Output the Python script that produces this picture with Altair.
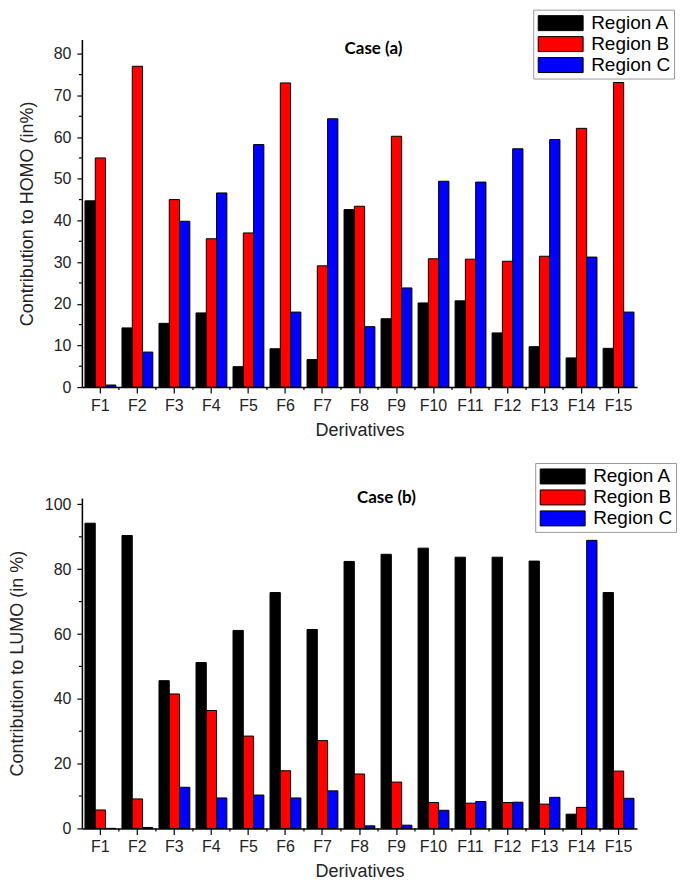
import altair as alt
import pandas as pd

derivs = [f"F{i}" for i in range(1, 16)]
regions = ["Region A", "Region B", "Region C"]
colors = ["#000000", "#ff0000", "#0000ff"]

homo_a = [44.7, 14.2, 15.3, 17.8, 4.9, 9.2, 6.6, 42.6, 16.4, 20.2, 20.7, 13.0, 9.7, 7.0, 9.3]
homo_b = [55.0, 77.0, 45.0, 35.6, 37.0, 73.0, 29.1, 43.4, 60.2, 30.8, 30.7, 30.2, 31.4, 62.1, 73.1]
homo_c = [0.5, 8.4, 39.8, 46.6, 58.2, 18.0, 64.4, 14.5, 23.8, 49.4, 49.2, 57.2, 59.4, 31.2, 18.0]

lumo_a = [94.2, 90.4, 45.6, 51.2, 61.1, 72.8, 61.4, 82.4, 84.6, 86.5, 83.7, 83.7, 82.5, 4.4, 72.8]
lumo_b = [5.7, 9.1, 41.5, 36.4, 28.5, 17.8, 27.1, 16.8, 14.3, 8.0, 7.8, 8.0, 7.5, 6.5, 17.7]
lumo_c = [0.0, 0.3, 12.7, 9.4, 10.3, 9.4, 11.6, 0.8, 1.0, 5.6, 8.3, 8.1, 9.6, 88.9, 9.3]

homo_ticks = [0, 10, 20, 30, 40, 50, 60, 70, 80]
homo_minor = [5, 15, 25, 35, 45, 55, 65, 75]
lumo_ticks = [0, 20, 40, 60, 80, 100]
lumo_minor = [10, 30, 50, 70, 90]

FONT = "Liberation Sans"
W = 556


def panel(a, b, c, ytitle, ymax, yticks, minor, case, case_x, case_y,
          H, legend_x, legend_y, ytitle_pad):
    df = pd.DataFrame({
        "Derivative": derivs * 3,
        "Region": [r for r in regions for _ in derivs],
        "Value": a + b + c,
    })
    xscale = alt.Scale(domain=derivs, paddingInner=0, paddingOuter=0)
    yscale = alt.Scale(domain=[0, ymax], nice=False, zero=True)
    bars = alt.Chart(df).mark_bar(stroke="black", strokeWidth=1, opacity=1).encode(
        x=alt.X("Derivative:N", sort=derivs, scale=xscale,
                axis=alt.Axis(title="Derivatives", labelAngle=0, tickSize=6,
                              labelPadding=4, titlePadding=8)),
        xOffset=alt.XOffset("Region:N", sort=regions,
                            scale=alt.Scale(domain=regions, paddingInner=0, paddingOuter=0.3)),
        y=alt.Y("Value:Q", scale=yscale,
                axis=alt.Axis(values=yticks, title=ytitle, tickSize=5,
                              labelPadding=6, titlePadding=ytitle_pad)),
        color=alt.Color("Region:N", sort=regions,
                        scale=alt.Scale(domain=regions, range=colors),
                        legend=alt.Legend(
                            title=None, orient="none", legendX=legend_x, legendY=legend_y,
                            symbolType="M-2.25,-0.75H2.25V0.75H-2.25Z", symbolSize=400,
                            symbolOffset=14, labelOffset=20,
                            labelFont=FONT, labelFontSize=19, labelColor="black",
                            strokeColor="#999999", fillColor="white", padding=3,
                            rowPadding=0, symbolStrokeColor="black", symbolStrokeWidth=1,
                            symbolOpacity=1)),
    )
    minor_df = pd.DataFrame({"v": minor})
    yminor = alt.Chart(minor_df).mark_rule(color="black", strokeWidth=1.2).encode(
        y=alt.Y("v:Q", scale=yscale, axis=None),
        x=alt.value(-3), x2=alt.value(0),
    )
    bdf = pd.DataFrame({"Derivative": derivs[1:]})
    xminor = alt.Chart(bdf).mark_rule(color="black", strokeWidth=1.2).encode(
        x=alt.X("Derivative:N", sort=derivs, scale=xscale, bandPosition=0, axis=None),
        y=alt.value(H), y2=alt.value(H + 3),
    )
    tdf = pd.DataFrame({"t": [case]})
    txt = alt.Chart(tdf).mark_text(font="Lato", fontSize=17, fontWeight="bold",
                                   color="black", align="center", baseline="middle").encode(
        x=alt.value(case_x), y=alt.value(case_y), text="t:N",
    )
    return alt.layer(bars, yminor, xminor, txt).resolve_axis(
        x="independent", y="independent"
    ).properties(width=W, height=H)


top = panel(homo_a, homo_b, homo_c, "Contribution to HOMO (in%)", 83.4,
            homo_ticks, homo_minor, "Case (a)", 292, 9, 348, 452, -30, 17)
bottom = panel(lumo_a, lumo_b, lumo_c, "Contribution to LUMO (in %)", 102,
               lumo_ticks, lumo_minor, "Case (b)", 305, 0, 331, 454, -35, 18)

chart = alt.vconcat(top, bottom, spacing=23).resolve_scale(
    x="independent", y="independent", color="independent", xOffset="independent"
).resolve_legend(color="independent").properties(
    padding={"left": 0, "top": 0, "right": 0, "bottom": 0}
).configure_view(strokeWidth=0).configure_axis(
    domainColor="black", domainWidth=1.5, tickColor="black", tickWidth=1.2,
    labelFont=FONT, labelFontSize=16, labelColor="#222222",
    titleFont=FONT, titleFontSize=18, titleFontWeight="normal", titleColor="#222222",
    grid=False,
)

chart.save("out.html", embed_options={"renderer": "svg", "actions": False})
